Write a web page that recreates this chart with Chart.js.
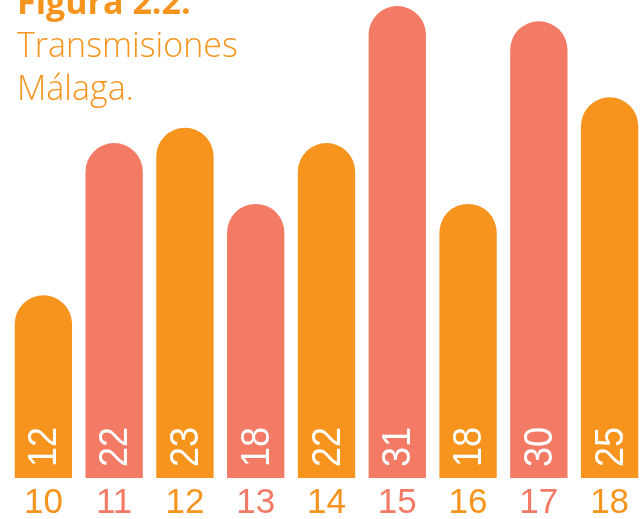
<!DOCTYPE html>
<html>
<head>
	<meta charset="utf-8">
	<title>Transmisiones Málaga</title>
	<script src="https://cdn.jsdelivr.net/npm/chart.js"></script>
	<style>
		html, body {
			margin: 0;
			padding: 0;
			background: #fff;
			overflow: hidden;
		}

		.wrap {
			position: relative;
			width: 645px;
			height: 519px;
		}

		.title {
			position: absolute;
			left: 17px;
			top: -20px;
			font-family: 'Open Sans', sans-serif;
			font-size: 34px;
			line-height: 43px;
			color: #F7941D;
			font-weight: 300;
			pointer-events: none;
		}

		.title b {
			font-weight: 700;
		}
	</style>
</head>
<body>
	<div class="wrap">
		<canvas id="myChart"></canvas>
		<div class="title">
			<b>Figura 2.2.</b><br>
			Transmisiones<br>
			Málaga.
		</div>
	</div>

	<script>
		// years (10 = 2010 ...) and number of broadcasts
		var years = [ '10', '11', '12', '13', '14', '15', '16', '17', '18' ];
		var values = [ 12, 22, 23, 18, 22, 31, 18, 30, 25 ];

		var orange = '#F7941D';
		var salmon = '#F37A65';
		var narrow = '"Liberation Sans Narrow", "Arial Narrow", "Liberation Sans", sans-serif';

		var colors = [];
		for( var i = 0; i < years.length; i++ ) {
			colors.push( i % 2 == 0 ? orange : salmon );
		}

		// white rotated value inside each bar, near the bottom
		var insideLabels = {
			id: 'insideLabels',
			afterDatasetsDraw: function( chart ) {
				var ctx = chart.ctx;
				var meta = chart.getDatasetMeta( 0 );
				var bottom = chart.chartArea.bottom;

				ctx.save();
				ctx.fillStyle = '#fff';
				ctx.font = '40px ' + narrow;
				ctx.textAlign = 'left';
				ctx.textBaseline = 'middle';

				meta.data.forEach( function( bar, i ) {
					ctx.save();
					ctx.translate( bar.x + 2, bottom - 11 );
					ctx.rotate( -Math.PI / 2 );
					ctx.scale( 0.9, 1 ); // digits a bit more condensed
					ctx.fillText( String( values[ i ] ), 0, 0 );
					ctx.restore();
				});

				ctx.restore();
			}
		};

		new Chart( document.getElementById( 'myChart' ), {
			type: 'bar',
			data: {
				labels: years,
				datasets: [{
					data: values,
					backgroundColor: colors,
					borderWidth: 0,
					borderRadius: 100,
					borderSkipped: 'start',
					barPercentage: 0.9,
					categoryPercentage: 0.9
				}]
			},
			options: {
				responsive: true,
				maintainAspectRatio: false,
				animation: false,
				layout: {
					padding: { left: 8, right: 0, top: 6, bottom: -10 }
				},
				plugins: {
					legend: { display: false },
					tooltip: { enabled: false }
				},
				scales: {
					y: {
						display: false,
						min: 0,
						max: 31
					},
					x: {
						grid: { display: false, drawTicks: false },
						border: { display: false },
						ticks: {
							color: colors,
							padding: 8,
							font: {
								family: narrow,
								size: 35,
								lineHeight: 1
							}
						}
					}
				}
			},
			plugins: [ insideLabels ]
		});
	</script>
</body>
</html>
